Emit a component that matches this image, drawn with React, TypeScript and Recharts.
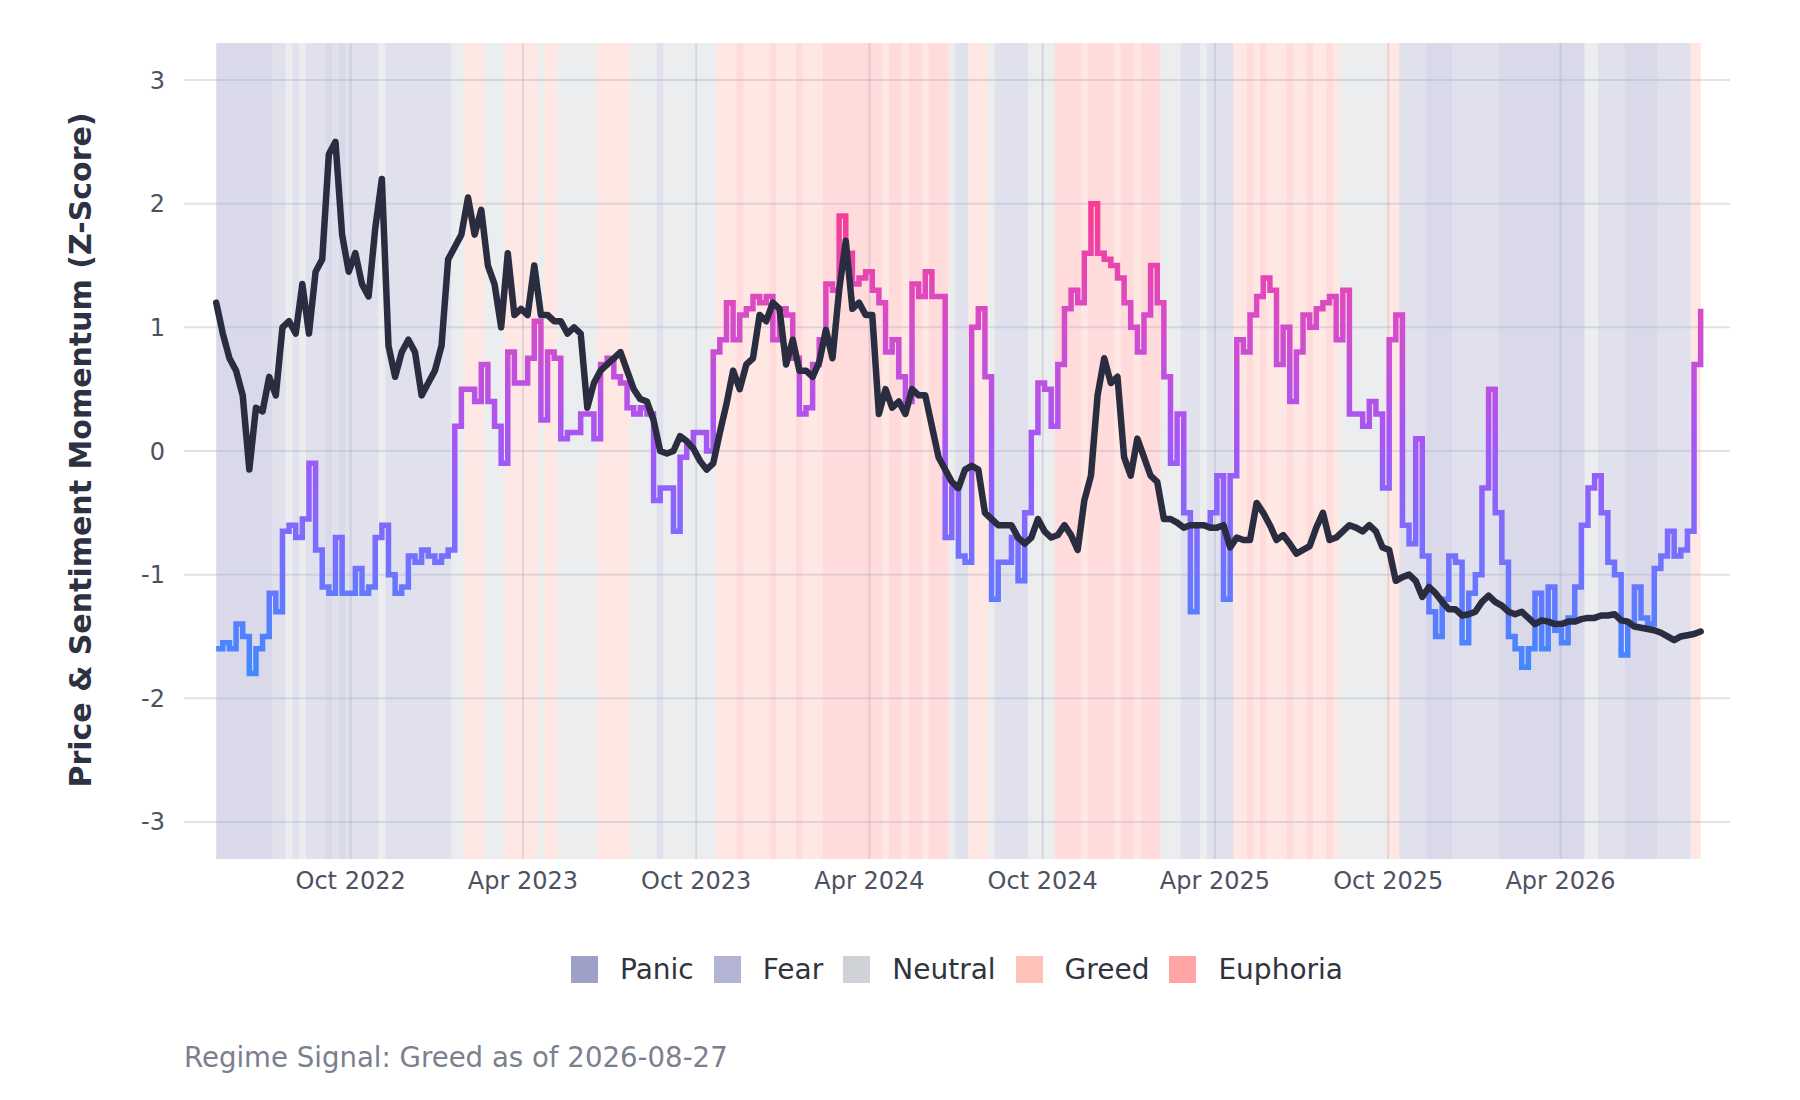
import React from 'react';
import {
  LineChart,
  Line,
  XAxis,
  YAxis,
  ReferenceArea,
  ReferenceLine,
  Label,
} from 'recharts';

// weekly samples, first one on 2022-05-12, last one on 2026-08-27
const FIRST_SAMPLE = '2022-05-12';

const PRICE_Z = [
  1.2, 0.95, 0.75, 0.65, 0.45, -0.15, 0.35, 0.32, 0.6, 0.45,
  1.0, 1.05, 0.95, 1.35, 0.95, 1.45, 1.55, 2.4, 2.5, 1.75,
  1.45, 1.6, 1.35, 1.25, 1.8, 2.2, 0.85, 0.6, 0.8, 0.9,
  0.8, 0.45, 0.55, 0.65, 0.85, 1.55, 1.65, 1.75, 2.05, 1.75,
  1.95, 1.5, 1.35, 1.0, 1.6, 1.1, 1.15, 1.1, 1.5, 1.1,
  1.1, 1.05, 1.05, 0.95, 1.0, 0.95, 0.35, 0.55, 0.65, 0.7,
  0.75, 0.8, 0.65, 0.5, 0.42, 0.4, 0.25, 0.0, -0.02, 0.0,
  0.12, 0.08, 0.02, -0.08, -0.15, -0.1, 0.15, 0.38, 0.65, 0.5,
  0.7, 0.75, 1.1, 1.05, 1.2, 1.15, 0.7, 0.9, 0.65, 0.65,
  0.6, 0.72, 0.98, 0.75, 1.3, 1.7, 1.15, 1.2, 1.1, 1.1,
  0.3, 0.5, 0.35, 0.4, 0.3, 0.5, 0.45, 0.45, 0.2, -0.05,
  -0.15, -0.25, -0.3, -0.15, -0.12, -0.15, -0.5, -0.55, -0.6, -0.6,
  -0.6, -0.7, -0.75, -0.7, -0.55, -0.65, -0.7, -0.68, -0.6, -0.68,
  -0.8, -0.4, -0.2, 0.45, 0.75, 0.55, 0.6, -0.05, -0.2, 0.1,
  -0.05, -0.2, -0.25, -0.55, -0.55, -0.58, -0.62, -0.6, -0.6, -0.6,
  -0.62, -0.62, -0.6, -0.78, -0.7, -0.72, -0.72, -0.42, -0.5, -0.6,
  -0.72, -0.68, -0.75, -0.83, -0.8, -0.77, -0.62, -0.5, -0.72, -0.7,
  -0.65, -0.6, -0.62, -0.65, -0.6, -0.65, -0.78, -0.8, -1.05, -1.02,
  -1.0, -1.05, -1.18, -1.1, -1.15, -1.22, -1.28, -1.28, -1.33, -1.32,
  -1.3, -1.22, -1.17, -1.22, -1.25, -1.3, -1.32, -1.3, -1.35, -1.4,
  -1.37, -1.38, -1.4, -1.4, -1.38, -1.38, -1.36, -1.35, -1.35, -1.33,
  -1.33, -1.32, -1.37, -1.38, -1.42, -1.43, -1.44, -1.45, -1.47, -1.5,
  -1.53, -1.5, -1.49, -1.48, -1.46,
];

const SENTIMENT_Z = [
  -1.6, -1.55, -1.6, -1.4, -1.5, -1.8, -1.6, -1.5, -1.15, -1.3,
  -0.65, -0.6, -0.7, -0.55, -0.1, -0.8, -1.1, -1.15, -0.7, -1.15,
  -1.15, -0.95, -1.15, -1.1, -0.7, -0.6, -1.0, -1.15, -1.1, -0.85,
  -0.9, -0.8, -0.85, -0.9, -0.85, -0.8, 0.2, 0.5, 0.5, 0.4,
  0.7, 0.4, 0.2, -0.1, 0.8, 0.55, 0.55, 0.75, 1.05, 0.25,
  0.8, 0.75, 0.1, 0.15, 0.15, 0.3, 0.3, 0.1, 0.7, 0.75,
  0.6, 0.55, 0.35, 0.3, 0.35, 0.3, -0.4, -0.3, -0.3, -0.65,
  -0.05, 0.05, 0.15, 0.15, 0.0, 0.8, 0.9, 1.2, 0.9, 1.1,
  1.15, 1.25, 1.2, 1.25, 0.9, 1.15, 1.1, 0.75, 0.3, 0.35,
  0.7, 0.9, 1.35, 1.3, 1.9, 1.6, 1.35, 1.4, 1.45, 1.3,
  1.2, 0.8, 0.9, 0.6, 0.4, 1.35, 1.25, 1.45, 1.25, 1.25,
  -0.7, -0.3, -0.85, -0.9, 1.0, 1.15, 0.6, -1.2, -0.9, -0.9,
  -0.7, -1.05, -0.5, 0.15, 0.55, 0.5, 0.2, 0.7, 1.15, 1.3,
  1.2, 1.6, 2.0, 1.6, 1.55, 1.5, 1.4, 1.2, 1.0, 0.8,
  1.1, 1.5, 1.2, 0.6, -0.1, 0.3, -0.5, -1.3, -0.6, -0.6,
  -0.5, -0.2, -1.2, -0.2, 0.9, 0.8, 1.1, 1.25, 1.4, 1.3,
  0.7, 1.0, 0.4, 0.8, 1.1, 1.0, 1.15, 1.2, 1.25, 0.9,
  1.3, 0.3, 0.3, 0.2, 0.4, 0.3, -0.3, 0.9, 1.1, -0.6,
  -0.75, 0.1, -0.85, -1.3, -1.5, -1.2, -0.85, -0.9, -1.55, -1.15,
  -1.0, -0.3, 0.5, -0.5, -0.9, -1.5, -1.6, -1.75, -1.6, -1.15,
  -1.6, -1.1, -1.45, -1.55, -1.35, -1.1, -0.6, -0.3, -0.2, -0.5,
  -0.9, -1.0, -1.65, -1.4, -1.1, -1.35, -1.4, -0.95, -0.85, -0.65,
  -0.85, -0.8, -0.65, 0.7, 1.15,
];

// one regime letter per week: P panic, F fear, N neutral, G greed, E euphoria
const REGIME_WEEKS = [
  'PPPPPPPPP',
  'FFNFNFFFPFPFFFFFNFFFFFFFFFF',
  'NNGGGNNNGGGGGNGG',
  'NNNNNN',
  'GGGGG',
  'NNNNFNNNNNNNN',
  'GGGEGGGGEGGGEGGG',
  'EEEEEEEEEGEEGEEGEEE',
  'NFF',
  'GGG',
  'N',
  'FFFFF',
  'NNNN',
  'EEEEGEEEEGEEGEEE',
  'NNN',
  'FFFNFFFF',
  'GGEGEGGGEGGEGGEG',
  'NNNNNNN',
  'GG',
  'FFFFPPPPFFFFFFF',
  'PPPPPPPPPPPPP',
  'NN',
  'FFFF',
  'PPPPP',
  'FFFFF',
  'GG',
].join('');

const REGIME_NAMES = ['Panic', 'Fear', 'Neutral', 'Greed', 'Euphoria'];
const REGIME_CODES = ['P', 'F', 'N', 'G', 'E'];
const REGIME_COLORS = ['#9fa0c8', '#b3b4d5', '#cfd2d7', '#ffc2b8', '#ffa4a4'];

const TICK_DATES = [
  '2022-10-01', '2023-04-01', '2023-10-01', '2024-04-01',
  '2024-10-01', '2025-04-01', '2025-10-01', '2026-04-01',
];
const TICK_LABELS = [
  'Oct 2022', 'Apr 2023', 'Oct 2023', 'Apr 2024',
  'Oct 2024', 'Apr 2025', 'Oct 2025', 'Apr 2026',
];
const Y_TICKS = [-3, -2, -1, 0, 1, 2, 3];

const SIGNAL_TEXT = 'Regime Signal: Greed as of 2026-08-27';

const DAY = 86400000;
const toTime = (d: string) => Date.parse(d + 'T00:00:00Z');

const WIDTH = 1800;
const HEIGHT = 1100;
const PLOT_LEFT = 184;
const PLOT_RIGHT = 1730;
const PLOT_TOP = 43;
const PLOT_BOTTOM = 859;
const Y_MIN = -3.3;
const Y_MAX = 3.3;
const X_MIN = toTime('2022-04-08');
const X_MAX = toTime('2026-09-27');
const FONT = '"DejaVu Sans", Verdana, sans-serif';
const TEXT_GREY = '#4d5261';

const yPixel = (v: number) =>
  PLOT_TOP + ((Y_MAX - v) / (Y_MAX - Y_MIN)) * (PLOT_BOTTOM - PLOT_TOP);

const start = toTime(FIRST_SAMPLE);
const data = PRICE_Z.map((price, i) => ({
  t: start + i * 7 * DAY,
  price,
  sentiment: SENTIMENT_Z[i],
}));
const lastT = data[data.length - 1].t;

// merge consecutive weeks of the same regime into shaded spans
const regimeSpans: { code: string; x1: number; x2: number }[] = [];
for (let i = 0; i < REGIME_WEEKS.length; i++) {
  const code = REGIME_WEEKS[i];
  const x1 = Math.max(start, data[i].t - 3.5 * DAY);
  const x2 = Math.min(lastT, data[i].t + 3.5 * DAY);
  const prev = regimeSpans[regimeSpans.length - 1];
  if (prev && prev.code === code) {
    prev.x2 = x2;
  } else {
    regimeSpans.push({ code, x1, x2 });
  }
}

const tickTimes = TICK_DATES.map(toTime);
const formatXTick = (v: number) => {
  const idx = tickTimes.indexOf(v);
  return idx >= 0 ? TICK_LABELS[idx] : '';
};

const renderYTitle = () => (
  <text
    x={80}
    y={450}
    transform="rotate(-90 80 450)"
    textAnchor="middle"
    dominantBaseline="central"
    fontFamily={FONT}
    fontSize={30}
    fontWeight="bold"
    fill="#2e3142"
  >
    Price &amp; Sentiment Momentum (Z-Score)
  </text>
);

export default function App() {
  const yAxisWidth = 100;
  const xAxisHeight = 60;

  return (
    <div style={{ position: 'relative', width: WIDTH, height: HEIGHT, background: '#fff' }}>
      <style>{'body { margin: 0; }'}</style>
      <LineChart
        width={WIDTH}
        height={HEIGHT}
        data={data}
        margin={{
          top: PLOT_TOP,
          right: WIDTH - PLOT_RIGHT,
          bottom: HEIGHT - PLOT_BOTTOM - xAxisHeight,
          left: PLOT_LEFT - yAxisWidth,
        }}
      >
        <defs>
          <linearGradient
            id="sentimentGradient"
            gradientUnits="userSpaceOnUse"
            x1={0}
            x2={0}
            y1={yPixel(2.1)}
            y2={yPixel(-1.9)}
          >
            <stop offset="0%" stopColor="#ff3a8c" />
            <stop offset="25%" stopColor="#d94bc6" />
            <stop offset="50%" stopColor="#a556f5" />
            <stop offset="75%" stopColor="#7371ff" />
            <stop offset="100%" stopColor="#3a8cff" />
          </linearGradient>
        </defs>
        <XAxis
          dataKey="t"
          type="number"
          scale="linear"
          domain={[X_MIN, X_MAX]}
          ticks={tickTimes}
          tickFormatter={formatXTick}
          allowDataOverflow
          axisLine={false}
          tickLine={false}
          tickSize={0}
          tickMargin={13}
          height={xAxisHeight}
          tick={{ fill: TEXT_GREY, fontSize: 24, fontFamily: FONT }}
        />
        <YAxis
          type="number"
          domain={[Y_MIN, Y_MAX]}
          ticks={Y_TICKS}
          allowDataOverflow
          axisLine={false}
          tickLine={false}
          tickSize={0}
          tickMargin={19}
          width={yAxisWidth}
          tick={{ fill: TEXT_GREY, fontSize: 24, fontFamily: FONT }}
        >
          <Label content={renderYTitle} />
        </YAxis>
        {regimeSpans.map((span, i) => (
          <ReferenceArea
            key={`regime-${i}`}
            x1={span.x1}
            x2={span.x2}
            y1={Y_MIN}
            y2={Y_MAX}
            fill={REGIME_COLORS[REGIME_CODES.indexOf(span.code)]}
            fillOpacity={0.4}
            stroke="none"
            ifOverflow="hidden"
          />
        ))}
        {Y_TICKS.map((v) => (
          <ReferenceLine
            key={`hgrid-${v}`}
            y={v}
            stroke="#a9adc0"
            strokeOpacity={0.35}
            strokeWidth={2}
          />
        ))}
        {tickTimes.map((t) => (
          <ReferenceLine
            key={`vgrid-${t}`}
            x={t}
            stroke="#a9adc0"
            strokeOpacity={0.35}
            strokeWidth={2}
          />
        ))}
        <Line
          dataKey="sentiment"
          type="stepAfter"
          stroke="url(#sentimentGradient)"
          strokeWidth={5.5}
          strokeLinejoin="miter"
          dot={false}
          activeDot={false}
          isAnimationActive={false}
        />
        <Line
          dataKey="price"
          type="linear"
          stroke="#2a2c40"
          strokeWidth={6.5}
          strokeLinejoin="round"
          strokeLinecap="round"
          dot={false}
          activeDot={false}
          isAnimationActive={false}
        />
      </LineChart>

      <div
        style={{
          position: 'absolute',
          top: 955,
          left: PLOT_LEFT,
          width: PLOT_RIGHT - PLOT_LEFT,
          height: 28,
          display: 'flex',
          justifyContent: 'center',
          alignItems: 'center',
          fontFamily: FONT,
          fontSize: 28,
          color: '#30343f',
        }}
      >
        {REGIME_NAMES.map((name, i) => (
          <div key={name} style={{ display: 'flex', alignItems: 'center', marginRight: i < REGIME_NAMES.length - 1 ? 20 : 0 }}>
            <span style={{ width: 27, height: 27, background: REGIME_COLORS[i], marginRight: 22, display: 'inline-block' }} />
            <span>{name}</span>
          </div>
        ))}
      </div>

      <div
        style={{
          position: 'absolute',
          top: 1041,
          left: PLOT_LEFT,
          fontFamily: FONT,
          fontSize: 27.6,
          color: '#7b808e',
          whiteSpace: 'nowrap',
        }}
      >
        {SIGNAL_TEXT}
      </div>
    </div>
  );
}
